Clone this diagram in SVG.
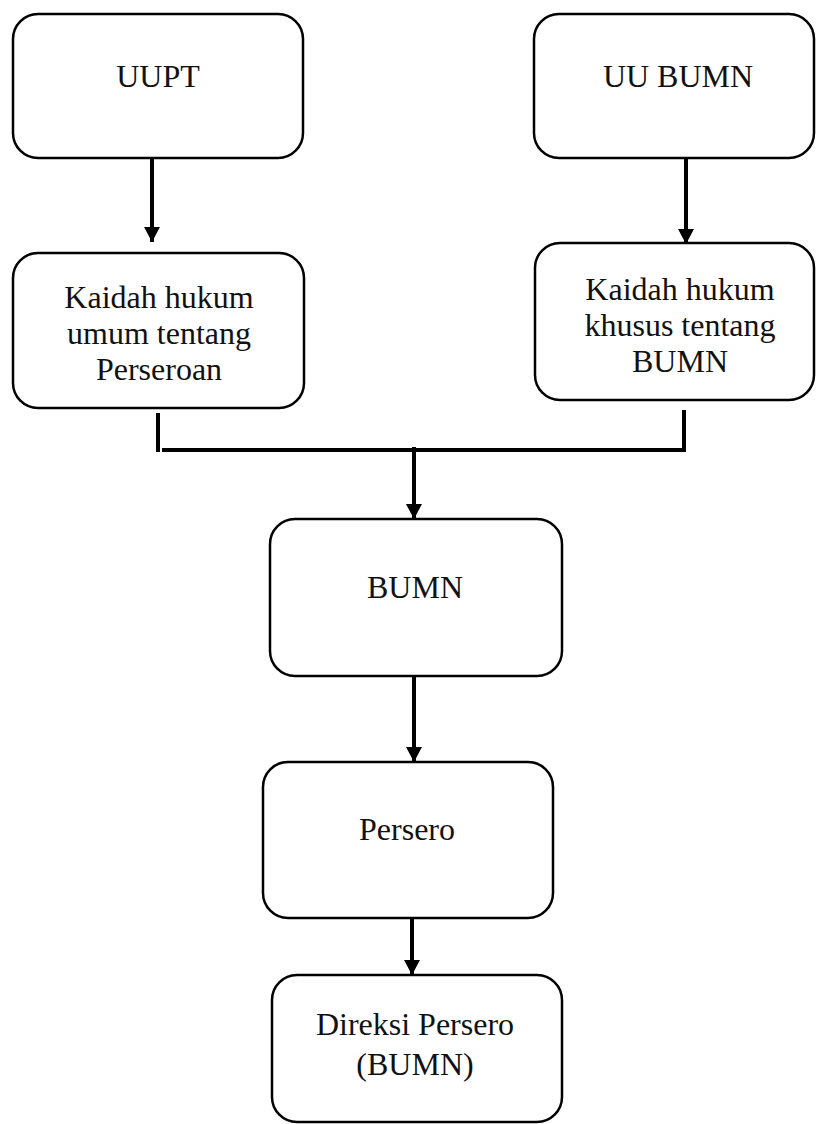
<svg xmlns="http://www.w3.org/2000/svg" width="816" height="1124" viewBox="0 0 816 1124">
<style>
.box{fill:#fff;stroke:#000;stroke-width:2.5}
.t{font-family:"Liberation Serif","Times New Roman",serif;font-size:32px;fill:#111;text-anchor:middle}
.ln{stroke:#000;stroke-width:4;fill:none}
</style>
<defs>
<marker id="arr" markerUnits="userSpaceOnUse" markerWidth="16" markerHeight="16" refX="15" refY="8" orient="auto" viewBox="0 0 16 16">
<path d="M0,0 L15,8 L0,16 Z" fill="#000"/>
</marker>
</defs>
<g id="connectors">
<line class="ln" x1="152" y1="158" x2="152" y2="242" marker-end="url(#arr)"/>
<line class="ln" x1="686" y1="159" x2="686" y2="244" marker-end="url(#arr)"/>
<line class="ln" x1="158" y1="413" x2="158" y2="452"/>
<line class="ln" x1="162" y1="450" x2="686" y2="450"/>
<line class="ln" x1="684" y1="410" x2="684" y2="450"/>
<line class="ln" x1="414" y1="447" x2="414" y2="519" marker-end="url(#arr)"/>
<line class="ln" x1="414" y1="676" x2="414" y2="762" marker-end="url(#arr)"/>
<line class="ln" x1="412" y1="918" x2="412" y2="975" marker-end="url(#arr)"/>
</g>
<g id="uupt">
<rect class="box" x="13" y="14" width="290" height="144" rx="25"/>
<text class="t" x="158" y="87">UUPT</text>
</g>
<g id="uubumn">
<rect class="box" x="534" y="14" width="280" height="144" rx="25"/>
<text class="t" x="678" y="87">UU BUMN</text>
</g>
<g id="kaidah-umum">
<rect class="box" x="13" y="253" width="291" height="155" rx="25"/>
<text class="t" x="159" y="308">Kaidah hukum</text>
<text class="t" x="159" y="344">umum tentang</text>
<text class="t" x="159" y="380">Perseroan</text>
</g>
<g id="kaidah-khusus">
<rect class="box" x="535" y="243" width="279" height="157" rx="25"/>
<text class="t" x="680" y="300">Kaidah hukum</text>
<text class="t" x="680" y="336">khusus tentang</text>
<text class="t" x="680" y="372">BUMN</text>
</g>
<g id="bumn">
<rect class="box" x="270" y="519" width="292" height="157" rx="25"/>
<text class="t" x="415" y="598">BUMN</text>
</g>
<g id="persero">
<rect class="box" x="263" y="762" width="290" height="156" rx="25"/>
<text class="t" x="407" y="840">Persero</text>
</g>
<g id="direksi">
<rect class="box" x="272" y="975" width="290" height="147" rx="25"/>
<text class="t" x="415" y="1035">Direksi Persero</text>
<text class="t" x="415" y="1075">(BUMN)</text>
</g>
</svg>
